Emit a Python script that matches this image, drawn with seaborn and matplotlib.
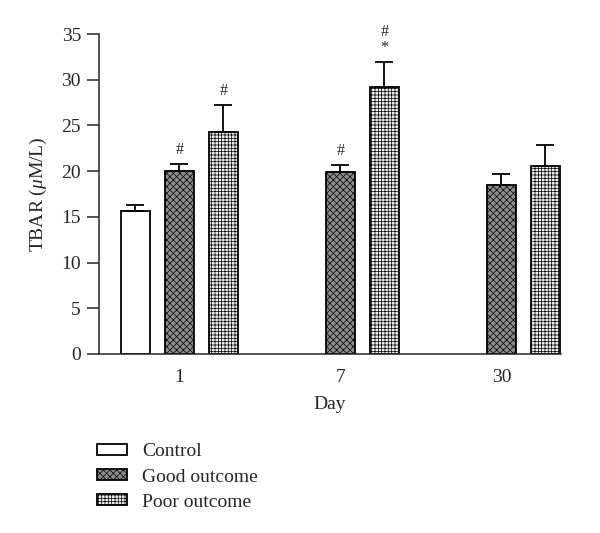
import pandas as pd
import matplotlib
matplotlib.use("Agg")
import matplotlib.pyplot as plt
import seaborn as sns

# ------------------------------------------------------------
# Data
# ------------------------------------------------------------
days = ["1", "7", "30"]
groups = ["Control", "Good outcome", "Poor outcome"]

control_mean = [15.6]
control_sem = [0.65]
control_sig = [""]

good_mean = [20.0, 19.9, 18.5]
good_sem = [0.75, 0.8, 1.2]
good_sig = ["#", "#", ""]

poor_mean = [24.3, 29.2, 20.6]
poor_sem = [2.95, 2.8, 2.3]
poor_sig = ["#", "#\n*", ""]

rows = []
rows += [("1", "Control", m, s, g) for m, s, g in zip(control_mean, control_sem, control_sig)]
rows += [(d, "Good outcome", m, s, g) for d, m, s, g in zip(days, good_mean, good_sem, good_sig)]
rows += [(d, "Poor outcome", m, s, g) for d, m, s, g in zip(days, poor_mean, poor_sem, poor_sig)]
df = pd.DataFrame(rows, columns=["Day", "Group", "TBAR", "SEM", "Sig"])

# ------------------------------------------------------------
# Style
# ------------------------------------------------------------
sns.set_style("ticks")
plt.rcParams["font.family"] = ["Liberation Serif", "DejaVu Serif"]
plt.rcParams["mathtext.fontset"] = "custom"
plt.rcParams["mathtext.rm"] = "Liberation Serif"
plt.rcParams["mathtext.it"] = "Liberation Serif:italic"
plt.rcParams["hatch.linewidth"] = 0.5

styles = {
    "Control": dict(facecolor="white", hatch=None),
    "Good outcome": dict(facecolor="#8c8c8c", hatch="xxxxx"),
    "Poor outcome": dict(facecolor="#ececec", hatch="+++++"),
}

fig = plt.figure(figsize=(6.0, 5.33), dpi=100)
ax = fig.add_axes([0.165, 0.336, 0.77, 0.6])

sns.barplot(data=df, x="Day", y="TBAR", hue="Group", order=days, hue_order=groups,
            width=0.82, gap=0.36, errorbar=None, ax=ax, legend=False)

# hatches, error bars and significance marks per hue level
for cont, grp in zip(ax.containers, groups):
    sub = df[df["Group"] == grp]
    for patch, (_, r) in zip(cont.patches, sub.iterrows()):
        patch.set_facecolor(styles[grp]["facecolor"])
        patch.set_edgecolor("black")
        patch.set_linewidth(1.3)
        if styles[grp]["hatch"]:
            patch.set_hatch(styles[grp]["hatch"])
        xc = patch.get_x() + patch.get_width() / 2
        ax.errorbar(xc, r["TBAR"], yerr=[[0], [r["SEM"]]], fmt="none",
                    ecolor="black", elinewidth=1.3, capsize=6.5, capthick=1.3)
        if r["Sig"]:
            for k, s in enumerate(r["Sig"].split("\n")[::-1]):
                ax.annotate(s, (xc, r["TBAR"] + r["SEM"]), xytext=(0, 10 + 11.5 * k),
                            textcoords="offset points", ha="center", va="center",
                            fontsize=11.5)

ax.set_ylim(0, 35)
ax.set_yticks(range(0, 36, 5))
ax.set_xlim(-0.5, 2.37)
ax.tick_params(axis="y", length=9, width=1.1, labelsize=14, pad=4)
ax.tick_params(axis="x", length=0, labelsize=14, pad=11)
for sp in ["left", "bottom"]:
    ax.spines[sp].set_linewidth(1.1)
sns.despine(ax=ax)

ax.set_xlabel("Day", fontsize=14, labelpad=7)
ax.set_ylabel(r"TBAR ($\mathit{\mu}$M/L)", fontsize=14, labelpad=9)

fig.legend(ax.containers, groups, loc="upper left", bbox_to_anchor=(0.162, 0.168),
           frameon=False, fontsize=14, handlelength=1.55, handleheight=0.5,
           handletextpad=0.75, labelspacing=0.42, borderpad=0, borderaxespad=0)

fig.savefig("out.png", dpi=100)
